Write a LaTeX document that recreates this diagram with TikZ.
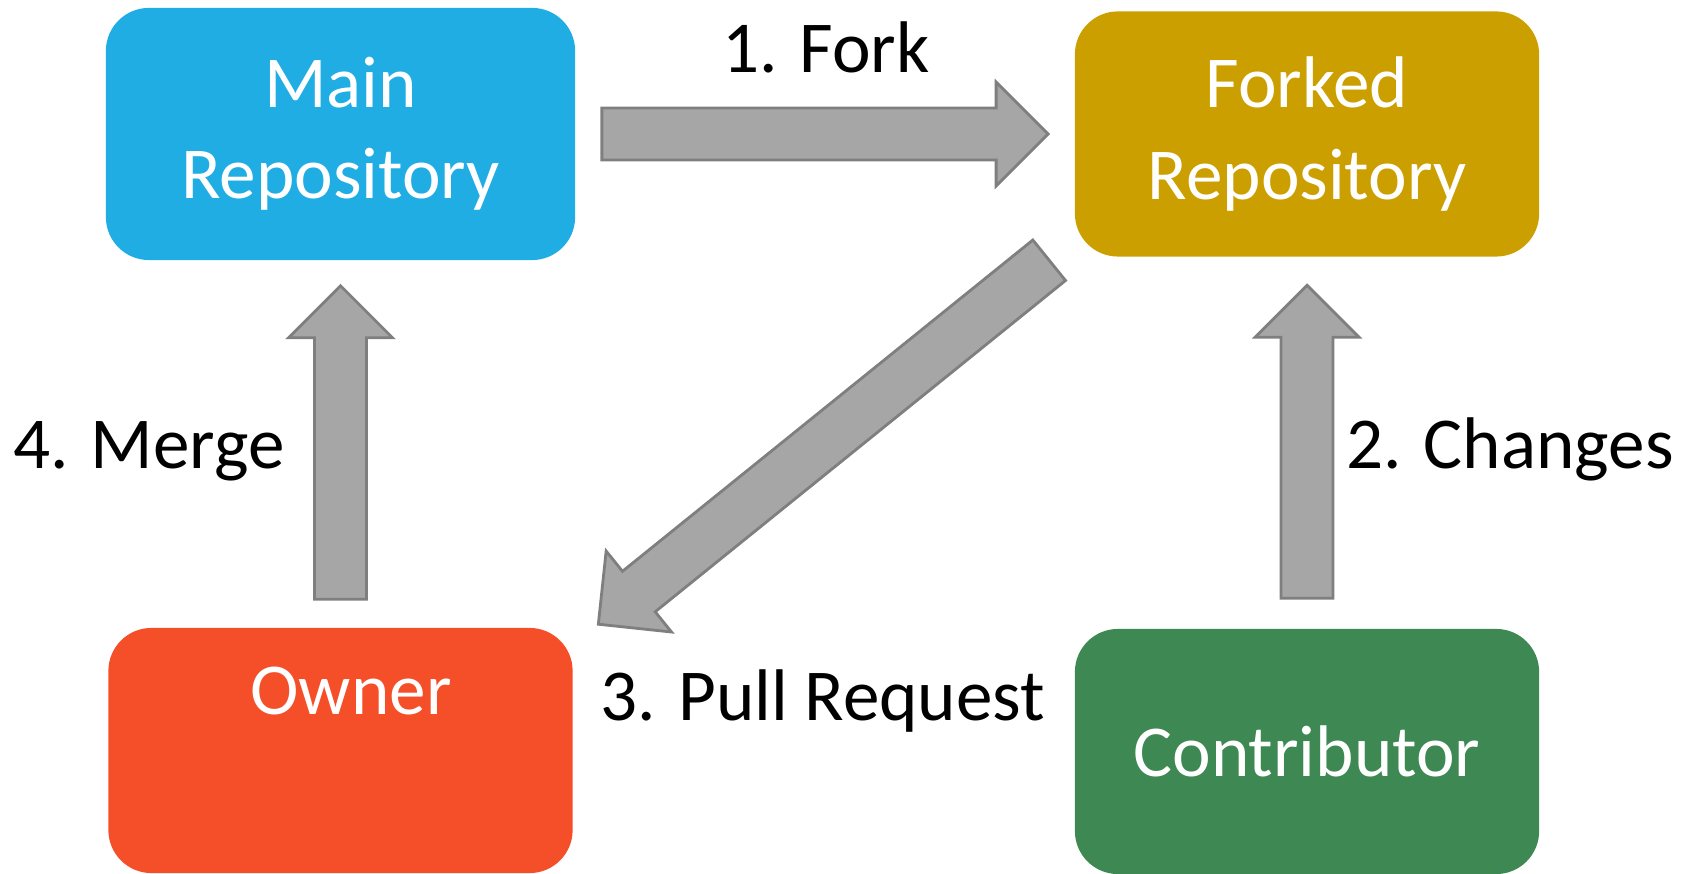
\documentclass[tikz,border=0pt]{standalone}
\usepackage{fontspec}
\setmainfont{Carlito}
\usetikzlibrary{calc}
\definecolor{MainBlue}{HTML}{1FADE4}
\definecolor{ForkGold}{HTML}{CC9F00}
\definecolor{OwnerRed}{HTML}{F54F2A}
\definecolor{ContribGreen}{HTML}{3E8953}
\definecolor{ArrowFill}{HTML}{A6A6A6}
\definecolor{ArrowLine}{HTML}{7F7F7F}

% block arrow from #1 to #2
\newcommand{\blockarrow}[2]{%
  \coordinate (#1-#2) at ($(#2)!0.52cm!(#1)$);
  \draw[arrowbody] ($(#1)!0.26cm!90:(#2)$) -- ($(#1-#2)!0.26cm!90:(#2)$) -- ($(#1-#2)!0.52cm!90:(#2)$) -- (#2)
    -- ($(#1-#2)!0.52cm!-90:(#2)$) -- ($(#1-#2)!0.26cm!-90:(#2)$) -- ($(#1)!0.26cm!-90:(#2)$) -- cycle;}

\begin{document}
\begin{tikzpicture}[x=0.01cm,y=-0.01cm,
  every node/.style={font=\fontsize{20.8}{25.9}\selectfont},
  box/.style={rounded corners=0.43cm,inner sep=0pt,text=white,align=center,minimum width=4.64cm,minimum height=2.45cm},
  arrowbody/.style={fill=ArrowFill,draw=ArrowLine,line width=0.8pt,line join=miter}]
  \useasboundingbox (0,0) rectangle (1692,874);
  \node[box,fill=MainBlue,minimum width=4.69cm,minimum height=2.52cm] (main) at (340.5,134) {Main\\Repository};
  \node[box,fill=ForkGold] (forked) at (1307,134) {Forked\\Repository};
  \node[box,fill=OwnerRed] (owner) at (340.5,750.5) {};
  \node[anchor=base,text=white] (owner-text) at (351,715) {Owner};
  \node[box,fill=ContribGreen] (contributor) at (1307,751.5) {Contributor};
  % arrow ends
  \coordinate (fork-tail) at ($(main.east)+(26,0)$);
  \coordinate (fork-tip) at ($(forked.west)+(-26,0)$);
  \coordinate (changes-tail) at ($(contributor.north)+(0,-30)$);
  \coordinate (changes-tip) at ($(forked.south)+(0,28)$);
  \coordinate (pull-tail) at ($(forked.south west)+(-25,3)$);
  \coordinate (pull-tip) at ($(owner.north east)+(25,-3)$);
  \coordinate (merge-tail) at ($(owner.north)+(0,-28)$);
  \coordinate (merge-tip) at ($(main.south)+(0,25)$);
  \foreach \s in {fork,changes,pull,merge}{\blockarrow{\s-tail}{\s-tip}}
  \node[anchor=base] (fork-label) at (826,73) {1. Fork};
  \node[anchor=base] (changes-label) at (1510,469) {2. Changes};
  \node[anchor=base] (pull-label) at (823,721) {3. Pull Request};
  \node[anchor=base] (merge-label) at (149,469) {4. Merge};
\end{tikzpicture}
\end{document}
